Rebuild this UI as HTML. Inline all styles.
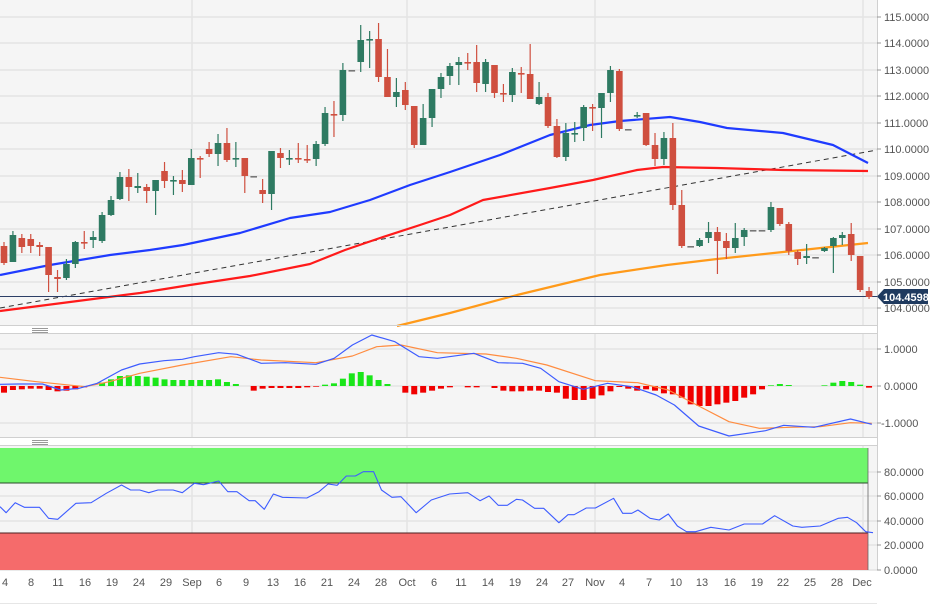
<!DOCTYPE html>
<html><head><meta charset="utf-8"><style>
html,body{margin:0;padding:0;background:#fff;width:948px;height:606px;overflow:hidden}
svg{display:block}
text{font-family:"Liberation Sans",sans-serif;font-size:11px;fill:#555}
</style></head><body>
<svg id="s" width="948" height="606" viewBox="0 0 948 606" xmlns="http://www.w3.org/2000/svg">
<rect x="0" y="0" width="877" height="325" fill="#f5f5f5"/>
<rect x="0" y="334" width="877" height="103" fill="#f5f5f5"/>
<rect x="0" y="446" width="877" height="124" fill="#f5f5f5"/>
<g id="grid" stroke="#e4e4e4" stroke-width="1.5"></g>
<rect x="0" y="448" width="868" height="35" fill="#6ff66c"/>
<line x1="0" y1="483" x2="868" y2="483" stroke="#2a4a2a" stroke-width="1"/>
<rect x="0" y="533" width="868" height="37" fill="#f56b6b"/>
<line x1="0" y1="533" x2="868" y2="533" stroke="#4a2020" stroke-width="1"/>
<line x1="868" y1="448" x2="868" y2="570" stroke="#666" stroke-width="0.8"/>
<g id="plot"></g>
<line x1="0" y1="325.5" x2="877" y2="325.5" stroke="#d0d0d0"/>
<line x1="0" y1="333.5" x2="877" y2="333.5" stroke="#d0d0d0"/>
<line x1="0" y1="437.5" x2="877" y2="437.5" stroke="#d0d0d0"/>
<line x1="0" y1="445.5" x2="877" y2="445.5" stroke="#d0d0d0"/>
<line x1="877.5" y1="0" x2="877.5" y2="570" stroke="#d0d0d0"/>
<line x1="0" y1="603.5" x2="877" y2="603.5" stroke="#e6e6e6"/>
<g stroke="#999" stroke-width="1"><line x1="32" y1="328.5" x2="48" y2="328.5"/><line x1="32" y1="330.5" x2="48" y2="330.5"/><line x1="32" y1="332.5" x2="48" y2="332.5"/>
<line x1="32" y1="440.5" x2="48" y2="440.5"/><line x1="32" y1="442.5" x2="48" y2="442.5"/><line x1="32" y1="444.5" x2="48" y2="444.5"/></g>
<g id="ticks" stroke="#999"></g>
<g>
<text x="884" y="21">115.0000</text><text x="884" y="47">114.0000</text><text x="884" y="74">113.0000</text>
<text x="884" y="100">112.0000</text><text x="884" y="127">111.0000</text><text x="884" y="153">110.0000</text>
<text x="884" y="180">109.0000</text><text x="884" y="206">108.0000</text><text x="884" y="233">107.0000</text>
<text x="884" y="259">106.0000</text><text x="884" y="286">105.0000</text><text x="884" y="312">104.0000</text>
<text x="884" y="353">1.0000</text><text x="884" y="390">0.0000</text><text x="881" y="427">-1.0000</text>
<text x="884" y="476">80.0000</text><text x="884" y="500">60.0000</text><text x="884" y="525">40.0000</text>
<text x="884" y="549">20.0000</text><text x="884" y="574">0.0000</text>
</g>
<polygon points="877,296.5 884,289 928,289 928,304 884,304" fill="#1f3a5f"/>
<text x="883" y="301" style="fill:#fff;font-weight:bold">104.4598</text>
<g text-anchor="middle">
<text x="5" y="586">4</text><text x="31" y="586">8</text><text x="58" y="586">11</text><text x="85" y="586">16</text>
<text x="112" y="586">19</text><text x="139" y="586">24</text><text x="166" y="586">29</text><text x="192" y="586">Sep</text>
<text x="219" y="586">6</text><text x="246" y="586">9</text><text x="273" y="586">13</text><text x="300" y="586">16</text>
<text x="327" y="586">21</text><text x="354" y="586">24</text><text x="381" y="586">28</text><text x="407" y="586">Oct</text>
<text x="434" y="586">6</text><text x="461" y="586">11</text><text x="488" y="586">14</text><text x="515" y="586">19</text>
<text x="542" y="586">24</text><text x="568" y="586">27</text><text x="595" y="586">Nov</text><text x="622" y="586">4</text>
<text x="649" y="586">7</text><text x="676" y="586">10</text><text x="702" y="586">13</text><text x="730" y="586">16</text>
<text x="757" y="586">19</text><text x="783" y="586">22</text><text x="810" y="586">25</text><text x="837" y="586">28</text>
<text x="862" y="586">Dec</text>
</g>
</svg>
<script>
var NS="http://www.w3.org/2000/svg";
function el(p,t,a){var e=document.createElementNS(NS,t);for(var k in a)e.setAttribute(k,a[k]);p.appendChild(e);return e;}
var g=document.getElementById("grid"),P=document.getElementById("plot"),T=document.getElementById("ticks");
[17,43,70,96,123,149,176,202,229,255,282,308,349,386,423,472,496,521,545,570].forEach(function(y){
 var x2=877; el(g,"line",{x1:0,y1:y,x2:x2,y2:y}); el(T,"line",{x1:877,y1:y,x2:881,y2:y});});
[192,407,595,863].forEach(function(x){[[0,325],[334,437],[446,570]].forEach(function(r){el(g,"line",{x1:x,y1:r[0],x2:x,y2:r[1]});});});
function pl(pts,c,w,extra){var a={points:pts.map(function(p){return p[0]+","+p[1]}).join(" "),fill:"none",stroke:c,"stroke-width":w,"stroke-linejoin":"round"};for(var k in extra)a[k]=extra[k];el(P,"polyline",a);}
// MAs
pl([[0,308],[877,150]],"#333",1,{"stroke-dasharray":"5,4"});
pl([[0,311],[70,302],[140,293],[190,285],[250,276],[310,264],[345,250],[380,238],[420,225],[450,215],[483,200],[550,188],[593,180],[637,170],[663,167],[717,168],[783,170],[868,171]],"#ff1a1a",2.2);
pl([[0,275],[50,265],[110,255],[150,250],[183,245],[240,233],[290,218],[330,212],[370,200],[410,185],[450,172],[500,155],[550,135],[590,125],[620,121],[670,117],[700,122],[727,128],[783,133],[833,145],[868,163]],"#1f3bff",2.2);
pl([[397,326],[450,313],[517,295],[600,275],[667,265],[717,259],[783,252],[868,243]],"#ff9a1a",2.2);
el(P,"line",{x1:0,y1:296.5,x2:877,y2:296.5,stroke:"#2c3e66","stroke-width":1});
// candles [o,c,h,l]
var C=[[246,263,242,265],[262,235,231,262],[238,247,234,253],[239,246,234,253],[245,247,242,256],[247,275,247,292],[277,279,270,292],[278,264,259,280],[264,242,241,268],[242,243,231,249],[240,237,231,248],[241,215,212,243],[215,200,196,216],[199,177,172,200],[177,187,169,201],[188,186,173,193],[187,191,184,203],[191,180,180,215],[171,181,162,188],[181,180,176,195],[180,184,170,192],[185,158,149,185],[158,159,156,178],[149,154,142,157],[154,143,134,166],[143,160,128,162],[159,158,142,167],[158,176,158,193],[176,176,176,176],[190,194,179,203],[194,151,151,210],[153,158,148,168],[159,158,150,165],[158,159,143,163],[159,160,145,163],[159,144,141,166],[144,113,107,146],[114,115,101,137],[115,70,63,121],[70,70,70,70],[62,40,25,72],[40,39,31,68],[39,77,23,82],[77,97,49,97],[97,92,78,107],[90,105,82,110],[106,145,106,148],[145,118,104,145],[118,89,89,127],[89,77,73,98],[76,66,63,85],[65,62,57,85],[62,63,53,70],[62,83,45,92],[84,62,59,92],[65,93,65,98],[93,94,84,102],[95,72,68,102],[73,74,67,93],[74,99,44,99],[104,97,82,105],[97,126,93,128],[126,157,119,158],[157,133,123,161],[134,133,122,142],[128,107,105,141],[107,108,104,131],[108,93,93,138],[93,70,66,102],[71,129,69,131],[129,129,129,129],[116,115,112,118],[113,145,113,146],[145,159,133,166],[159,138,132,165],[138,205,123,210],[205,246,190,248],[246,246,246,246],[246,240,238,247],[238,232,222,243],[232,241,227,274],[241,248,233,259],[248,238,223,253],[237,230,228,246],[230,230,230,230],[230,230,230,230],[230,207,202,232],[208,224,208,226],[224,251,222,255],[252,259,250,265],[258,256,244,264],[257,257,257,257],[251,248,247,252],[246,238,237,273],[238,235,232,245],[234,255,223,261],[256,290,256,292],[291,297,287,299]];
C.forEach(function(c,i){var x=4+i*8.918;var up=c[1]<c[0];var col=c[0]==c[1]&&c[2]==c[3]?"#777":(up?"#2e7a62":"#cf4f3f");
 el(P,"line",{x1:x,y1:c[2],x2:x,y2:c[3],stroke:col,"stroke-width":1.2});
 var t=Math.min(c[0],c[1]),h=Math.max(Math.abs(c[0]-c[1]),1.6);
 el(P,"rect",{x:x-3.3,y:t,width:6.6,height:h,fill:col});});
// MACD histogram
var H=[-20,-12,-10,-8,-8,-12,-16,-14,-10,-4,0,10,20,30,32,30,28,25,20,18,18,18,18,18,20,12,6,0,-14,-8,-6,-6,-6,-6,-4,-2,4,8,22,38,42,32,18,6,0,-20,-25,-20,-14,-8,-4,0,-4,-4,0,-6,-14,-16,-16,-14,-14,-18,-20,-38,-42,-42,-38,-28,-16,-3,-8,-14,-10,-14,-22,-25,-35,-55,-60,-60,-55,-50,-45,-35,-25,-10,2,6,3,0,0,0,2,10,15,12,4,-5];
H.forEach(function(v,i){if(!v)return;var x=4+i*8.918,h=v/3;el(P,"rect",{x:x-3,y:h>0?386-h:386,width:6,height:Math.abs(h),fill:h>0?"#19e619":"#f00000"});});
function Z(a){return a.map(function(p){return [(p[0]/1.646).toFixed(1),(p[1]/3+320).toFixed(1)]});}
pl(Z([[0,172],[60,185],[140,200],[180,185],[230,160],[300,135],[380,110],[430,120],[520,128],[580,108],[620,80],[660,75],[720,98],[800,102],[850,115],[900,135],[980,182],[1050,188],[1100,210],[1150,258],[1200,305],[1250,325],[1300,322],[1350,320],[1400,308],[1435,310]]),"#ff8c40",1.2);
pl(Z([[0,193],[30,192],[70,192],[100,210],[130,205],[160,190],[200,150],[230,132],[270,122],[300,118],[320,110],[360,98],[390,103],[430,130],[470,128],[520,133],[550,115],[580,75],[612,45],[650,65],[690,110],[720,115],[780,100],[820,128],[860,130],[890,145],[920,185],[960,208],[1000,190],[1040,200],[1080,225],[1110,255],[1150,318],[1200,348],[1260,332],[1290,316],[1340,322],[1400,297],[1435,313]]),"#3d5cff",1.2);
pl(Z([[0,560],[10,578],[25,548],[40,562],[65,562],[80,595],[95,598],[125,550],[150,548],[175,520],[200,495],[215,510],[230,510],[245,518],[260,510],[285,510],[300,518],[320,490],[335,494],[360,483],[375,515],[390,515],[410,542],[420,542],[435,568],[450,522],[465,532],[505,534],[525,515],[540,492],[555,496],[570,468],[585,468],[598,455],[615,455],[628,510],[645,532],[660,530],[685,578],[710,540],[740,522],[770,518],[790,542],[805,528],[820,556],[835,556],[850,538],[860,540],[880,565],[895,565],[920,608],[935,584],[945,584],[965,564],[980,564],[1010,535],[1025,580],[1040,580],[1050,570],[1070,595],[1085,600],[1100,582],[1115,618],[1130,635],[1145,635],[1170,622],[1200,630],[1225,612],[1255,612],[1275,587],[1305,618],[1320,622],[1350,618],[1380,595],[1395,592],[1410,608],[1425,635],[1437,638]]),"#3d5cff",1.1);
</script>
</body></html>
